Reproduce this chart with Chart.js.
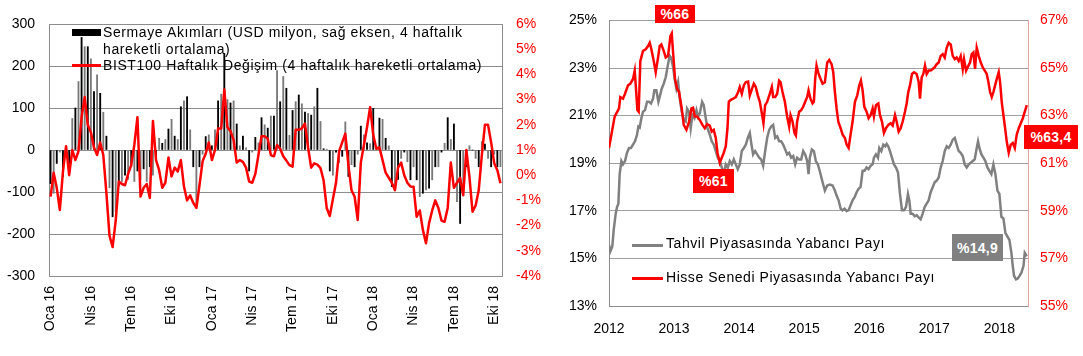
<!DOCTYPE html>
<html>
<head>
<meta charset="utf-8">
<script src="https://cdn.jsdelivr.net/npm/chart.js@4.4.1/dist/chart.umd.min.js"></script>
<style>
  html, body { margin:0; padding:0; background:#fff; }
  body { width:1083px; height:356px; position:relative; overflow:hidden; font-family:"Liberation Sans", Arial, sans-serif; }
  .box { position:absolute; }
  .txt { position:absolute; font-size:14px; line-height:16px; color:#000; white-space:nowrap; letter-spacing:0.6px; }
  .tag { position:absolute; color:#fff; font-weight:bold; font-size:14px; display:flex; align-items:center; justify-content:center; letter-spacing:0.3px; }
</style>
</head>
<body>
<div class="box" style="left:0;top:0;width:545px;height:356px;"><canvas id="left" width="545" height="356"></canvas></div>
<div class="box" style="left:545px;top:0;width:538px;height:356px;"><canvas id="right" width="538" height="356"></canvas></div>

<!-- left legend -->
<div class="box" style="left:72px;top:29px;width:29px;height:7px;background:#000;"></div>
<div class="txt" style="left:103px;top:24px;">Sermaye Akımları (USD milyon, sağ eksen, 4 haftalık</div>
<div class="txt" style="left:103px;top:41px;">hareketli ortalama)</div>
<div class="box" style="left:72px;top:64px;width:29px;height:3px;background:#ff0000;"></div>
<div class="txt" style="left:103px;top:57px;">BIST100 Haftalık Değişim (4 haftalık hareketli ortalama)</div>

<!-- right legend -->
<div class="box" style="left:632px;top:244px;width:31px;height:3px;background:#808080;"></div>
<div class="txt" style="left:666px;top:235px;letter-spacing:0.55px;">Tahvil Piyasasında Yabancı Payı</div>
<div class="box" style="left:632px;top:277px;width:31px;height:3px;background:#ff0000;"></div>
<div class="txt" style="left:666px;top:269px;letter-spacing:0.55px;">Hisse Senedi Piyasasında Yabancı Payı</div>

<!-- annotation tags -->
<div class="tag" style="left:655px;top:5px;width:40px;height:18px;background:#ff0000;">%66</div>
<div class="tag" style="left:693px;top:169px;width:41px;height:24px;background:#ff0000;">%61</div>
<div class="tag" style="left:1024px;top:125px;width:54px;height:24px;background:#ff0000;">%63,4</div>
<div class="tag" style="left:952px;top:234px;width:51px;height:27px;background:#808080;">%14,9</div>

<script>
// ---------- Left chart data (weekly, Jan 2016 - Oct 2018) ----------
const quarterTicks = ['Oca 16','Nis 16','Tem 16','Eki 16','Oca 17','Nis 17','Tem 17','Eki 17','Oca 18','Nis 18','Tem 18','Eki 18'];
const weeksPerQuarter = 13;

// Sermaye akımları (USD milyon, 4 haftalık hareketli ortalama)
const capitalFlows = [
  -80,-103,-32,-5,-63,-5,-55,75,100,163,268,246,246,217,139,179,135,90,33,
  -90,-159,-147,-85,-75,-60,-70,-40,-75,-50,-70,-45,-75,-40,-60,-15,
  28,16,25,50,73,33,25,103,117,127,48,
  -40,-135,-40,-10,32,36,10,48,117,133,230,120,112,117,62,10,33,5,-50,-5,
  30,17,77,60,52,81,81,189,115,175,147,35,94,115,131,110,90,87,83,103,147,68,3,2,
  -50,-60,-5,-30,-15,
  67,-63,-35,-40,-10,57,36,17,15,99,10,76,73,28,10,
  -87,-95,-70,-20,-5,-28,-71,-40,-71,-111,-103,-95,-91,-71,-40,-40,-5,
  16,77,25,62,-123,-175,-90,-40,10,0,-20,-40,20,14,-20,-40,-10,-40,-40
];

// BIST100 haftalık değişim (%, 4 haftalık hareketli ortalama)
const bistChange = [
  -0.85,0.1,-0.5,-1.38,0.15,1.15,0.0,1.0,0.6,0.95,2.3,3.1,2.0,1.7,1.1,0.8,1.3,0.8,-0.7,-2.4,
  -2.85,-1.8,-0.25,-0.35,-0.4,0.05,0.4,1.2,2.3,-0.85,-0.5,-0.35,-0.9,2.15,0.6,0.2,-0.5,-0.3,0.7,-0.05,
  0.3,0.15,0.6,-0.45,-1.0,-0.8,-1.1,-1.3,-0.4,
  0.55,0.85,1.3,0.6,1.0,1.85,1.85,3.4,1.9,1.75,1.4,0.5,0.6,0.53,0.3,-0.25,-0.3,0.05,0.8,1.55,
  1.55,1.45,0.8,0.75,1.2,1.05,0.75,0.58,0.4,0.34,1.8,1.8,1.86,2.05,1.1,0.3,0.47,0.42,0.28,-0.2,
  -1.3,-1.62,-0.95,-0.3,0.95,1.3,1.65,0.4,
  -0.6,-0.85,-1.78,0.5,1.2,1.9,2.7,1.6,1.05,1.1,0.6,0.1,-0.1,-0.3,-0.6,0.3,0.5,0.0,-0.3,-0.45,
  -0.46,-1.65,-1.4,-2.17,-2.7,-1.9,-1.4,-1.0,-1.3,-1.8,-1.85,-1.3,0.5,-0.5,-0.3,-0.1,-0.8,1.0,-0.06,-1.45,
  -1.2,-0.6,0.8,2.0,2.0,1.3,0.47,0.2,-0.32
];

// ---------- Right chart data ----------
const yearTicks = [2012, 2013, 2014, 2015, 2016, 2017, 2018];

const hisseYears = [2012.000,2012.087,2012.154,2012.174,2012.215,2012.246,2012.292,2012.328,2012.369,2012.395,2012.415,2012.436,2012.456,2012.482,2012.523,2012.564,2012.600,2012.626,2012.651,2012.687,2012.718,2012.754,2012.779,2012.805,2012.841,2012.872,2012.908,2012.944,2012.964,2012.985,2013.015,2013.046,2013.077,2013.118,2013.149,2013.190,2013.231,2013.267,2013.292,2013.318,2013.354,2013.395,2013.436,2013.472,2013.508,2013.549,2013.579,2013.610,2013.641,2013.667,2013.703,2013.733,2013.764,2013.795,2013.821,2013.841,2013.867,2013.908,2013.949,2013.985,2014.010,2014.041,2014.072,2014.103,2014.138,2014.164,2014.190,2014.226,2014.256,2014.287,2014.318,2014.354,2014.374,2014.400,2014.431,2014.472,2014.503,2014.523,2014.554,2014.585,2014.615,2014.636,2014.667,2014.703,2014.738,2014.769,2014.790,2014.821,2014.851,2014.872,2014.892,2014.923,2014.954,2014.985,2015.015,2015.046,2015.067,2015.097,2015.128,2015.149,2015.169,2015.190,2015.215,2015.241,2015.283,2015.318,2015.354,2015.385,2015.421,2015.447,2015.472,2015.498,2015.524,2015.560,2015.591,2015.626,2015.652,2015.683,2015.713,2015.744,2015.780,2015.816,2015.847,2015.872,2015.898,2015.924,2015.959,2015.990,2016.021,2016.052,2016.072,2016.103,2016.139,2016.165,2016.195,2016.226,2016.257,2016.293,2016.329,2016.360,2016.396,2016.421,2016.452,2016.483,2016.514,2016.549,2016.575,2016.600,2016.626,2016.657,2016.688,2016.729,2016.760,2016.780,2016.806,2016.831,2016.857,2016.883,2016.913,2016.944,2016.975,2017.006,2017.037,2017.067,2017.098,2017.129,2017.160,2017.190,2017.221,2017.252,2017.283,2017.314,2017.344,2017.375,2017.406,2017.437,2017.457,2017.488,2017.524,2017.549,2017.575,2017.601,2017.626,2017.652,2017.683,2017.714,2017.744,2017.775,2017.806,2017.831,2017.857,2017.883,2017.908,2017.934,2017.960,2017.990,2018.011,2018.036,2018.062,2018.088,2018.113,2018.144,2018.175,2018.206,2018.237,2018.267,2018.298,2018.329,2018.360,2018.390,2018.421];
const hisseShare = [61.64,62.96,63.30,63.78,63.71,63.92,64.27,64.34,64.54,64.89,64.13,63.23,63.16,65.30,65.72,65.79,65.92,66.06,65.79,65.30,64.82,65.44,65.92,65.99,65.72,65.44,65.51,66.34,66.45,65.65,64.54,64.13,63.99,63.30,62.61,62.40,62.75,63.30,63.33,62.96,62.96,62.82,62.61,62.47,62.64,62.58,62.33,62.40,62.06,61.44,61.02,61.23,61.44,61.71,62.47,63.58,63.65,63.71,63.78,63.99,64.20,63.92,64.27,64.41,64.43,63.85,64.06,64.34,64.20,63.85,63.58,63.02,62.68,63.44,63.58,63.92,64.20,63.78,63.78,63.92,64.47,64.41,63.99,63.58,62.96,62.54,63.02,62.75,62.27,62.17,62.75,63.16,63.23,63.37,63.58,63.78,64.06,63.71,63.51,63.58,64.54,65.10,64.82,64.61,64.34,64.40,65.23,65.34,65.16,64.82,63.99,63.30,62.75,62.47,62.20,62.06,61.78,61.64,62.20,62.75,63.58,63.85,64.27,64.47,64.06,63.37,63.16,62.89,63.02,63.30,62.96,63.44,63.51,63.02,62.75,62.27,62.47,62.61,62.68,62.58,63.02,62.75,62.33,62.47,62.75,63.16,63.51,63.99,64.27,64.75,64.82,64.75,64.41,63.71,64.61,64.75,65.10,64.75,64.89,64.89,64.96,65.03,65.16,65.23,65.51,65.58,65.44,65.85,66.06,65.99,65.51,65.37,65.44,65.30,65.51,64.96,65.37,64.89,65.10,65.23,65.58,65.65,64.96,65.85,65.51,65.23,65.03,64.89,64.75,64.41,63.99,63.78,63.99,64.27,64.54,64.82,64.41,63.58,63.02,62.47,61.92,61.44,61.78,61.85,61.64,62.20,62.47,62.68,62.89,63.16,63.44];

const tahvilYears = [2012.000,2012.021,2012.051,2012.072,2012.103,2012.123,2012.144,2012.164,2012.190,2012.215,2012.246,2012.277,2012.308,2012.338,2012.369,2012.400,2012.431,2012.451,2012.472,2012.497,2012.523,2012.554,2012.585,2012.615,2012.646,2012.677,2012.697,2012.728,2012.759,2012.779,2012.810,2012.841,2012.872,2012.903,2012.933,2012.954,2012.985,2013.010,2013.036,2013.062,2013.087,2013.118,2013.149,2013.179,2013.200,2013.231,2013.256,2013.282,2013.313,2013.344,2013.369,2013.395,2013.431,2013.456,2013.487,2013.513,2013.549,2013.579,2013.610,2013.641,2013.672,2013.703,2013.733,2013.764,2013.795,2013.826,2013.856,2013.887,2013.918,2013.949,2013.979,2014.010,2014.041,2014.072,2014.103,2014.133,2014.164,2014.190,2014.215,2014.246,2014.277,2014.308,2014.338,2014.369,2014.400,2014.431,2014.462,2014.492,2014.523,2014.554,2014.585,2014.615,2014.646,2014.677,2014.708,2014.738,2014.769,2014.800,2014.831,2014.862,2014.892,2014.923,2014.954,2014.985,2015.015,2015.046,2015.067,2015.087,2015.118,2015.149,2015.179,2015.210,2015.241,2015.283,2015.318,2015.354,2015.395,2015.436,2015.472,2015.498,2015.529,2015.560,2015.590,2015.621,2015.652,2015.683,2015.713,2015.744,2015.775,2015.806,2015.836,2015.867,2015.898,2015.928,2015.959,2015.990,2016.021,2016.052,2016.072,2016.103,2016.134,2016.154,2016.185,2016.216,2016.246,2016.267,2016.292,2016.318,2016.349,2016.380,2016.411,2016.442,2016.472,2016.503,2016.534,2016.565,2016.595,2016.616,2016.637,2016.667,2016.698,2016.729,2016.759,2016.790,2016.821,2016.852,2016.883,2016.913,2016.944,2016.975,2017.006,2017.037,2017.067,2017.098,2017.129,2017.160,2017.190,2017.221,2017.252,2017.283,2017.314,2017.344,2017.375,2017.406,2017.437,2017.467,2017.498,2017.529,2017.560,2017.590,2017.621,2017.652,2017.672,2017.693,2017.724,2017.754,2017.785,2017.816,2017.846,2017.877,2017.908,2017.939,2017.970,2018.000,2018.031,2018.062,2018.093,2018.124,2018.154,2018.185,2018.206,2018.226,2018.257,2018.282,2018.308,2018.339,2018.370,2018.390,2018.421];
const tahvilShare = [15.57,15.30,15.50,16.19,16.88,17.16,17.30,18.54,19.09,18.95,19.09,19.44,19.64,19.64,19.78,19.92,20.20,20.54,20.50,20.89,21.16,21.23,21.58,21.58,21.51,21.71,22.06,22.06,21.58,21.78,22.13,22.34,22.61,23.10,23.51,23.44,23.03,22.54,22.13,22.41,21.72,21.16,20.82,20.75,21.30,21.16,20.47,21.02,20.89,21.23,20.95,21.09,21.58,21.44,20.89,20.47,20.20,19.92,19.78,19.51,19.23,19.09,18.82,18.54,18.95,18.82,19.09,18.95,19.16,18.95,18.75,18.95,19.51,19.64,19.78,20.06,20.27,19.78,19.37,19.51,19.37,19.23,19.16,18.89,19.51,20.06,20.40,20.54,20.61,20.06,20.13,19.92,19.92,19.78,19.58,19.37,19.44,19.23,19.30,18.95,19.23,19.16,19.16,19.51,19.37,19.09,18.54,19.23,19.58,19.51,19.09,18.95,18.65,18.20,17.85,18.06,18.10,18.06,17.85,17.64,17.44,17.09,17.02,17.09,16.99,17.02,17.23,17.44,17.57,17.78,17.92,18.00,18.68,18.68,18.82,18.75,18.89,18.95,19.23,19.37,19.23,19.64,19.51,19.78,19.71,19.81,19.71,19.51,19.23,18.95,18.82,18.61,17.71,17.02,17.02,17.16,17.71,17.44,16.88,16.88,16.77,16.81,16.72,16.64,16.88,17.16,17.30,17.44,17.78,17.99,18.20,18.27,18.40,18.82,19.09,19.51,19.71,19.64,19.78,19.99,20.06,19.78,19.51,19.44,19.30,18.95,18.82,18.95,19.02,19.09,19.16,19.64,19.92,19.64,19.37,19.23,19.09,18.82,18.68,18.54,18.95,18.54,17.85,17.71,16.75,16.68,16.06,15.92,15.78,15.23,14.68,14.26,14.12,14.15,14.26,14.40,14.68,15.23,15.09];

// ---------- Common styling ----------
const FONT = { family: '"Liberation Sans", Arial, sans-serif', size: 14 };
const GRID = '#8c8c8c';
Chart.defaults.font = FONT;
Chart.defaults.color = '#000';

const weekLabels = capitalFlows.map((_, i) => 'W' + i);

// ---------- Left chart ----------
new Chart(document.getElementById('left'), {
  data: {
    labels: weekLabels,
    datasets: [
      { type: 'line', data: bistChange, yAxisID: 'y2', borderColor: '#ff0000', borderWidth: 2.5,
        pointRadius: 0, tension: 0, order: 0, borderJoinStyle: 'round' },
      { type: 'bar', data: capitalFlows, yAxisID: 'y',
        backgroundColor: ctx => (ctx.dataIndex % 2 === 0 ? '#000000' : '#7a7a7a'),
        barThickness: 1.2, order: 1 }
    ]
  },
  options: {
    responsive: false, animation: false, devicePixelRatio: 1,
    layout: { padding: { top: 24, left: 0, right: 0, bottom: 0 } },
    plugins: { legend: { display: false }, tooltip: { enabled: false } },
    scales: {
      x: {
        type: 'category', offset: true,
        grid: { display: false, drawTicks: false }, border: { display: false },
        ticks: { autoSkip: false, minRotation: 90, maxRotation: 90, padding: 10, color: '#000', font: FONT,
          callback: (v, i) => (i % weeksPerQuarter === 0 ? (quarterTicks[i / weeksPerQuarter] || '') : '') },
        afterFit: s => { s.height = 80; }
      },
      y: {
        position: 'left', min: -300, max: 300,
        ticks: { stepSize: 100, padding: 14, color: '#000', font: FONT, callback: v => String(v) },
        grid: { color: GRID, lineWidth: 1, drawTicks: false }, border: { color: GRID },
        afterFit: s => { s.width = 49; }
      },
      y2: {
        position: 'right', min: -4, max: 6,
        ticks: { stepSize: 1, padding: 14, color: '#ff0000', font: FONT, callback: v => v + '%' },
        grid: { display: false, drawTicks: false }, border: { color: GRID },
        afterFit: s => { s.width = 43; }
      }
    }
  }
});

// ---------- Right chart ----------
const toXY = (xs, ys) => xs.map((x, i) => ({ x: x, y: ys[i] }));
new Chart(document.getElementById('right'), {
  type: 'line',
  data: {
    datasets: [
      { label: 'Tahvil Piyasasında Yabancı Payı', data: toXY(tahvilYears, tahvilShare), yAxisID: 'y',
        borderColor: '#808080', borderWidth: 2.5, pointRadius: 0, tension: 0, order: 1 },
      { label: 'Hisse Senedi Piyasasında Yabancı Payı', data: toXY(hisseYears, hisseShare), yAxisID: 'y2',
        borderColor: '#ff0000', borderWidth: 2.5, pointRadius: 0, tension: 0, order: 0 }
    ]
  },
  options: {
    responsive: false, animation: false, devicePixelRatio: 1,
    layout: { padding: { top: 17, left: 0, right: 0, bottom: 0 } },
    plugins: { legend: { display: false }, tooltip: { enabled: false } },
    scales: {
      x: {
        type: 'linear', min: yearTicks[0], max: 2018.44,
        afterBuildTicks: s => { s.ticks = yearTicks.map(v => ({ value: v })); },
        ticks: { padding: 15, maxRotation: 0, color: '#000', font: FONT, callback: v => String(v) },
        grid: { display: false, drawTicks: false }, border: { color: GRID },
        afterFit: s => { s.height = 50; }
      },
      y: {
        position: 'left', min: 13, max: 25,
        ticks: { stepSize: 2, padding: 12, color: '#000', font: FONT, callback: v => v + '%' },
        grid: { color: '#a0a0a0', lineWidth: 1, drawTicks: false }, border: { color: GRID },
        afterFit: s => { s.width = 64; }
      },
      y2: {
        position: 'right', min: 55, max: 67,
        ticks: { stepSize: 2, padding: 12, color: '#ff0000', font: FONT, callback: v => v + '%' },
        grid: { display: false, drawTicks: false }, border: { color: '#e3a3a3' },
        afterFit: s => { s.width = 55; }
      }
    }
  }
});
</script>
</body>
</html>
